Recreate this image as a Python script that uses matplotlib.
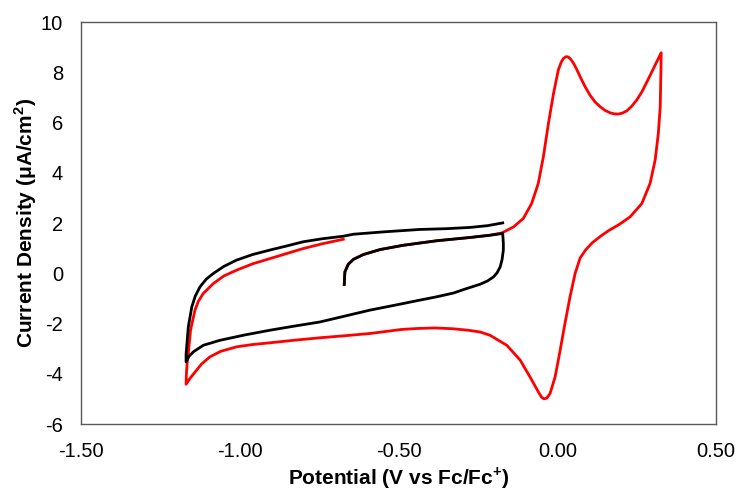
import matplotlib
matplotlib.use("Agg")
import matplotlib.pyplot as plt

plt.rcParams['font.family'] = ['Liberation Sans', 'DejaVu Sans']
plt.rcParams['mathtext.fontset'] = 'custom'
plt.rcParams['mathtext.rm'] = 'Liberation Sans'
plt.rcParams['mathtext.bf'] = 'Liberation Sans:bold'
plt.rcParams['axes.unicode_minus'] = False

# Blank electrolyte scan (black)
blank_potential = [
    -0.671, -0.669, -0.658, -0.642, -0.611, -0.558, -0.485, -0.380, -0.275, -0.212, -0.172,
    -0.170, -0.170, -0.174, -0.180, -0.190, -0.201, -0.220, -0.243, -0.290, -0.327, -0.380,
    -0.432, -0.510, -0.590, -0.670, -0.747, -0.830, -0.905, -0.985, -1.062, -1.115, -1.146,
    -1.160, -1.169,
    -1.169, -1.167, -1.162, -1.151, -1.140, -1.125, -1.105, -1.083, -1.050, -1.010, -0.960,
    -0.905, -0.850, -0.800, -0.740, -0.674, -0.642, -0.540, -0.432, -0.350, -0.275, -0.220,
    -0.172,
]
blank_current = [
    -0.44, 0.06, 0.37, 0.56, 0.75, 0.95, 1.12, 1.30, 1.43, 1.52, 1.59,
    1.20, 0.93, 0.55, 0.26, 0.02, -0.14, -0.30, -0.43, -0.62, -0.78, -0.93,
    -1.06, -1.26, -1.46, -1.70, -1.93, -2.10, -2.26, -2.45, -2.66, -2.86, -3.12,
    -3.30, -3.52,
    -3.20, -2.92, -2.13, -1.33, -0.90, -0.53, -0.22, 0.00, 0.28, 0.53, 0.75,
    0.93, 1.10, 1.26, 1.38, 1.48, 1.56, 1.66, 1.75, 1.78, 1.83, 1.90,
    2.01,
]

# Scan with ferrocene added (red)
fc_potential = [
    -0.671, -0.669, -0.658, -0.642, -0.611, -0.558, -0.485, -0.380, -0.275, -0.212, -0.175,
    -0.138, -0.107, -0.081, -0.060, -0.044, -0.028, -0.012, 0.003, 0.012, 0.019, 0.026,
    0.033, 0.041, 0.051, 0.061,
    0.072, 0.087, 0.103, 0.119, 0.135, 0.150, 0.166, 0.179, 0.192, 0.205, 0.219, 0.234,
    0.250, 0.266, 0.282, 0.296, 0.308, 0.318, 0.327,
    0.326, 0.324, 0.318, 0.308, 0.292, 0.266, 0.229, 0.195, 0.161, 0.135, 0.110, 0.090,
    0.072, 0.056, 0.040, 0.024, 0.009, -0.007, -0.023, -0.033, -0.042, -0.050, -0.060,
    -0.086, -0.117, -0.159, -0.212, -0.243, -0.281, -0.330, -0.386, -0.440, -0.491, -0.590,
    -0.670, -0.747, -0.830, -0.905, -0.960, -1.010, -1.060, -1.094, -1.120, -1.136, -1.157,
    -1.169,
    -1.168, -1.166, -1.162, -1.155, -1.141, -1.130, -1.115, -1.083, -1.050, -1.010, -0.960,
    -0.905, -0.850, -0.800, -0.740, -0.674,
]
fc_current = [
    -0.44, 0.06, 0.37, 0.56, 0.75, 0.95, 1.12, 1.30, 1.43, 1.52, 1.61,
    1.85, 2.19, 2.78, 3.58, 4.64, 5.97, 7.16, 8.09, 8.40, 8.55, 8.62,
    8.62, 8.54, 8.36, 8.12,
    7.82, 7.44, 7.09, 6.82, 6.63, 6.49, 6.39, 6.35, 6.34, 6.38, 6.47, 6.65,
    6.90, 7.22, 7.62, 7.98, 8.29, 8.55, 8.78,
    7.96, 6.63, 5.57, 4.51, 3.58, 2.78, 2.25, 1.95, 1.70, 1.47, 1.22, 0.95,
    0.62, 0.00, -0.93, -1.99, -3.05, -4.12, -4.78, -4.96, -4.99, -4.92, -4.71,
    -4.12, -3.45, -2.86, -2.46, -2.33, -2.26, -2.20, -2.17, -2.19, -2.23, -2.39,
    -2.48, -2.56, -2.66, -2.76, -2.83, -2.92, -3.10, -3.32, -3.60, -3.85, -4.18,
    -4.41,
    -4.00, -3.60, -3.19, -2.26, -1.46, -1.10, -0.80, -0.40, -0.10, 0.13, 0.38,
    0.59, 0.80, 0.99, 1.18, 1.36,
]

x_ticks = [-1.5, -1.0, -0.5, 0.0, 0.5]
y_ticks = [-6, -4, -2, 0, 2, 4, 6, 8, 10]

fig = plt.figure(figsize=(7.36, 4.91), dpi=100)
ax = fig.add_axes([0.110, 0.136, 0.863, 0.819])

ax.plot(fc_potential, fc_current, color='#FF0000', lw=2.0, solid_joinstyle='round')
ax.plot(blank_potential, blank_current, color='#000000', lw=2.0, solid_joinstyle='round')

ax.set_xlim(-1.5, 0.5)
ax.set_ylim(-6, 10)
ax.set_xticks(x_ticks)
ax.set_xticklabels([f"{t:.2f}" for t in x_ticks])
ax.set_yticks(y_ticks)
ax.tick_params(length=0, pad=13, labelsize=14.5, colors='#000000')

for side in ['left', 'bottom', 'top', 'right']:
    ax.spines[side].set_color('#595959')
    ax.spines[side].set_linewidth(1.0)

ax.set_xlabel(r'Potential (V vs Fc/Fc$^{\mathbf{+}}$)', fontsize=15, fontweight='bold', labelpad=3)
ax.set_ylabel(r'Current Density ($\mathbf{\mu}$A/cm$^{\mathbf{2}}$)', fontsize=15, fontweight='bold', labelpad=1)

fig.savefig('out.png', dpi=100)
